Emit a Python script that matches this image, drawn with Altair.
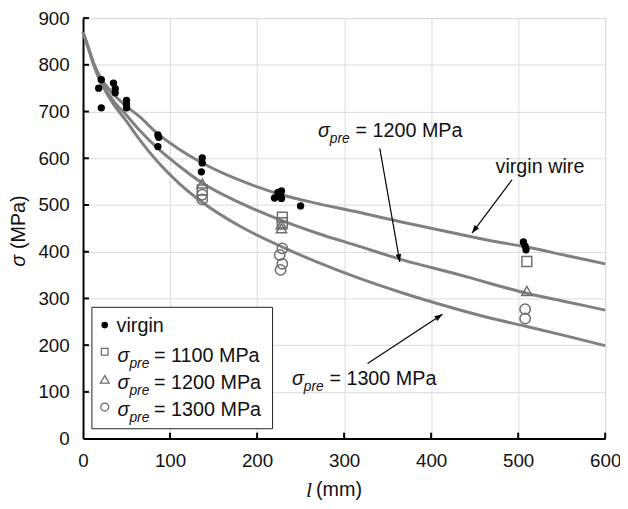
import altair as alt
import pandas as pd

FONT = "Liberation Sans"
W, H = 529, 426
GRAY = "#808080"
MARK = "#6e6e6e"

# ---- data ----
curve_x = [0, 6, 12, 18, 26, 35, 50, 65, 86, 110, 137, 180, 228, 270, 313, 370, 426, 470, 510, 555, 600]
curve_virgin = [870, 838, 805, 780, 757, 737, 711, 689, 652, 620, 590, 553, 522, 503, 486, 462, 440, 423, 410, 392, 374]
curve_1200 = [870, 837, 803, 775, 748, 723, 692, 660, 621, 584, 547, 505, 467, 439, 414, 381, 354, 331, 311, 293, 275]
curve_1300 = [870, 836, 801, 772, 743, 716, 679, 640, 592, 547, 506, 455, 411, 377, 346, 310, 279, 257, 240, 220, 199]

virgin_x = [18, 21, 21, 35, 37, 37, 50, 50, 50, 86, 87, 86, 137, 137, 136, 220, 224, 228, 228, 227, 250, 506, 508, 509]
virgin_y = [750, 768, 708, 761, 749, 740, 724, 715, 708, 650, 645, 625, 601, 590, 571, 515, 527, 530, 514, 521, 498, 421, 412, 404]
p1100_x = [137, 229, 229, 510]
p1100_y = [532, 474, 462, 379]
p1200_x = [137, 228, 228, 510]
p1200_y = [546, 458, 450, 316]
p1300_x = [137, 137, 229, 226, 229, 227, 508, 508]
p1300_y = [522, 512, 407, 393, 374, 361, 277, 257]

x_ticks = [0, 100, 200, 300, 400, 500, 600]
y_ticks = [0, 100, 200, 300, 400, 500, 600, 700, 800, 900]

arrow_x0 = [341, 493, 327]
arrow_y0 = [621, 554, 161]
arrow_x1 = [364, 447, 413]
arrow_y1 = [378, 440, 266]
arrow_angle = [170, 217, 57]

# annotation texts (x, baseline y in data units)
ann_sigma_x = [270, 240]
ann_sigma_y = [646, 114]
ann_rest = ["= 1200 MPa", "= 1300 MPa"]
virgin_label = "virgin wire"
virgin_label_x, virgin_label_y = 474, 568

legend_labels = ["= 1100 MPa", "= 1200 MPa", "= 1300 MPa"]

# ---- tables ----
n = len(curve_x)
curves = pd.DataFrame({
    "x": curve_x * 3,
    "y": curve_virgin + curve_1200 + curve_1300,
    "s": ["virgin"] * n + ["1200"] * n + ["1300"] * n,
})
virgin = pd.DataFrame({"x": virgin_x, "y": virgin_y})
d1100 = pd.DataFrame({"x": p1100_x, "y": p1100_y})
d1200 = pd.DataFrame({"x": p1200_x, "y": p1200_y})
d1300 = pd.DataFrame({"x": p1300_x, "y": p1300_y})
arrows = pd.DataFrame({"x0": arrow_x0, "y0": arrow_y0, "x1": arrow_x1, "y1": arrow_y1, "a": arrow_angle})
ann = pd.DataFrame({"x": ann_sigma_x, "y": ann_sigma_y, "rest": ann_rest})

xs = alt.Scale(domain=[0, 600], nice=False, zero=False)
ys = alt.Scale(domain=[0, 900], nice=False)

x_axis = alt.Axis(
    values=x_ticks, title=None, ticks=False, labelFontSize=19, labelFont=FONT,
    labelColor="#111", labelPadding=13, domainColor="#000", domainWidth=2,
    grid=True, gridColor="#d9d9d9", gridWidth=1, labelFlush=False)
y_axis = alt.Axis(
    values=y_ticks, title=None, ticks=False, labelFontSize=19, labelFont=FONT,
    labelColor="#111", labelPadding=14, domainColor="#000", domainWidth=2,
    grid=True, gridColor="#d9d9d9", gridWidth=1, labelFlush=False)

X = lambda f: alt.X(f, type="quantitative", scale=xs, axis=x_axis)
Y = lambda f: alt.Y(f, type="quantitative", scale=ys, axis=y_axis)

lines = alt.Chart(curves).mark_line(
    interpolate="monotone", color=GRAY, strokeWidth=3
).encode(x=X("x"), y=Y("y"), detail="s:N")

xt = alt.Chart(pd.DataFrame({"v": x_ticks[1:]})).mark_rule(color="#000", strokeWidth=2).encode(
    x=X("v"), y=alt.value(H), y2=alt.value(H - 6))
yt = alt.Chart(pd.DataFrame({"v": y_ticks[1:]})).mark_rule(color="#000", strokeWidth=2).encode(
    y=Y("v"), x=alt.value(0), x2=alt.value(6))

pts_v = alt.Chart(virgin).mark_circle(color="#000", size=55, opacity=1).encode(x=X("x"), y=Y("y"))
pts_1100 = alt.Chart(d1100).mark_point(shape="square", size=100, color=MARK, strokeWidth=1.5, filled=False, opacity=1).encode(x=X("x"), y=Y("y"))
pts_1200 = alt.Chart(d1200).mark_point(shape="triangle-up", size=110, color=MARK, strokeWidth=1.5, filled=False, opacity=1).encode(x=X("x"), y=Y("y"))
pts_1300 = alt.Chart(d1300).mark_point(shape="circle", size=110, color=MARK, strokeWidth=1.5, filled=False, opacity=1).encode(x=X("x"), y=Y("y"))

arr_lines = alt.Chart(arrows).mark_rule(color="#000", strokeWidth=1.2).encode(
    x=X("x0"), y=Y("y0"), x2="x1:Q", y2="y1:Q")
arr_heads = alt.Chart(arrows).mark_point(
    shape="M0,0L-0.7,2L0.7,2Z", size=64, filled=True, color="#000", opacity=1
).encode(x=X("x1"), y=Y("y1"), angle=alt.Angle("a:Q", scale=None))

ann_sig = alt.Chart(ann).mark_text(text="σ", font=FONT, fontSize=20, fontStyle="italic",
                                   align="left", baseline="alphabetic", color="#111").encode(x=X("x"), y=Y("y"))
ann_pre = alt.Chart(ann).mark_text(text="pre", font=FONT, fontSize=14, fontStyle="italic",
                                   align="left", baseline="alphabetic", dx=12, dy=6, color="#111").encode(x=X("x"), y=Y("y"))
ann_txt = alt.Chart(ann).mark_text(font=FONT, fontSize=20, align="left", baseline="alphabetic",
                                   dx=38, color="#111").encode(x=X("x"), y=Y("y"), text="rest:N")
ann_virgin = alt.Chart(pd.DataFrame({"x": [virgin_label_x], "y": [virgin_label_y], "t": [virgin_label]})).mark_text(
    font=FONT, fontSize=20, align="left", baseline="alphabetic", color="#111").encode(x=X("x"), y=Y("y"), text="t:N")

# ---- legend (drawn by hand) ----
one = pd.DataFrame({"k": [0]})
leg_box = alt.Chart(one).mark_rect(fill="white", stroke="#222", strokeWidth=1).encode(
    x=alt.value(9), x2=alt.value(192), y=alt.value(293), y2=alt.value(416))
leg_v = alt.Chart(one).mark_circle(color="#000", size=45, opacity=1).encode(x=alt.value(22), y=alt.value(311))
leg_sq = alt.Chart(one).mark_point(shape="square", size=45, color=MARK, strokeWidth=1.3, opacity=1).encode(x=alt.value(22), y=alt.value(338))
leg_tr = alt.Chart(one).mark_point(shape="triangle-up", size=80, color=MARK, strokeWidth=1.3, opacity=1).encode(x=alt.value(22), y=alt.value(366))
leg_ci = alt.Chart(one).mark_point(shape="circle", size=65, color=MARK, strokeWidth=1.3, opacity=1).encode(x=alt.value(22), y=alt.value(394))
leg_vt = alt.Chart(one).mark_text(text="virgin", font=FONT, fontSize=20, align="left", baseline="alphabetic",
                                  color="#111").encode(x=alt.value(34), y=alt.value(318))
leg_rows = pd.DataFrame({"t": legend_labels, "yy": [348, 375.5, 403]})
leg_sig = alt.Chart(leg_rows).mark_text(text="σ", font=FONT, fontSize=20, fontStyle="italic", align="left",
                                        baseline="alphabetic", color="#111").encode(
    x=alt.value(35), y=alt.Y("yy:Q", scale=None, axis=None))
leg_pre = alt.Chart(leg_rows).mark_text(text="pre", font=FONT, fontSize=14, fontStyle="italic", align="left",
                                        baseline="alphabetic", dy=6, color="#111").encode(
    x=alt.value(47), y=alt.Y("yy:Q", scale=None, axis=None))
leg_txt = alt.Chart(leg_rows).mark_text(font=FONT, fontSize=20, align="left", baseline="alphabetic",
                                        color="#111").encode(
    x=alt.value(72), y=alt.Y("yy:Q", scale=None, axis=None), text="t:N")

# ---- axis titles ----
yt_sig = alt.Chart(one).mark_text(text="σ", font=FONT, fontSize=20, fontStyle="italic", angle=270,
                                  align="left", baseline="middle", color="#111").encode(x=alt.value(-65), y=alt.value(252))
yt_rest = alt.Chart(one).mark_text(text="(MPa)", font=FONT, fontSize=20, angle=270,
                                   align="left", baseline="middle", color="#111").encode(x=alt.value(-65), y=alt.value(234))
xt_l = alt.Chart(one).mark_text(text="l", font="Liberation Serif", fontSize=22, fontStyle="italic",
                                align="left", baseline="middle", color="#111").encode(x=alt.value(226), y=alt.value(478))
xt_rest = alt.Chart(one).mark_text(text="(mm)", font=FONT, fontSize=20,
                                   align="left", baseline="middle", color="#111").encode(x=alt.value(236), y=alt.value(478))

chart = alt.layer(
    lines, xt, yt, pts_v, pts_1100, pts_1200, pts_1300,
    arr_lines, arr_heads, ann_sig, ann_pre, ann_txt, ann_virgin,
    leg_box, leg_v, leg_sq, leg_tr, leg_ci, leg_vt, leg_sig, leg_pre, leg_txt,
    yt_sig, yt_rest, xt_l, xt_rest,
).properties(
    width=W, height=H,
    autosize=alt.AutoSizeParams(type="none"),
    padding={"left": 76, "top": 7, "right": 15, "bottom": 62},
).configure_view(stroke=None).configure(background="white")

chart.save("out.html", embed_options={"renderer": "svg", "actions": False})
